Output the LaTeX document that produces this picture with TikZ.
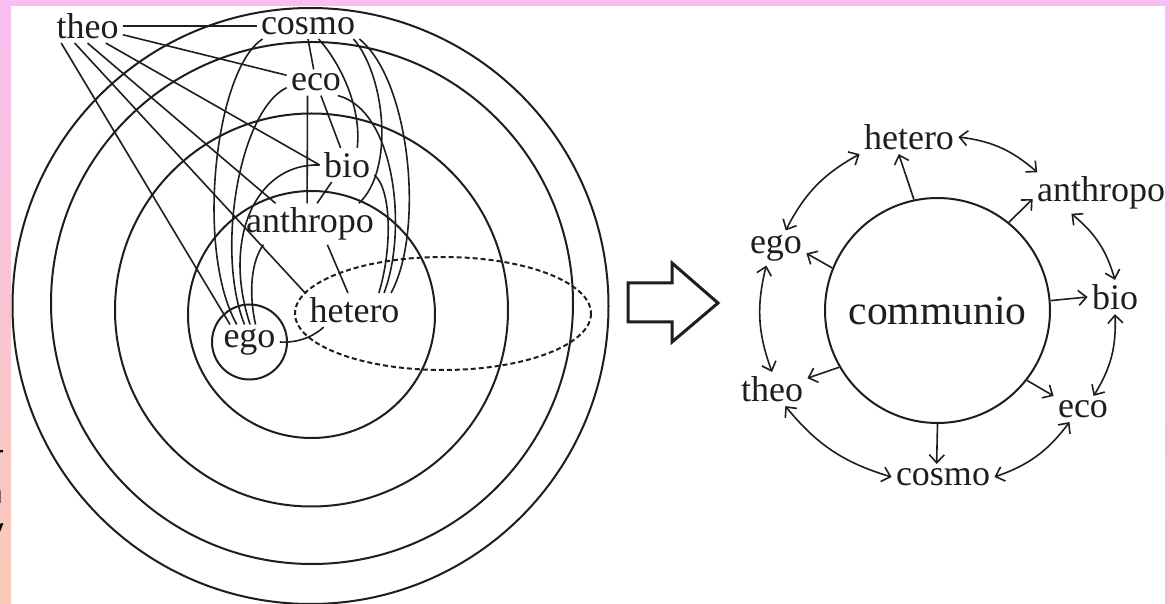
\documentclass[tikz,border=0pt]{standalone}
\usepackage{fontspec}
\setmainfont{Liberation Serif}
\newfontfamily\edgefont{Liberation Sans}
\usetikzlibrary{arrows.meta}

\definecolor{bandpink}{RGB}{249,190,240}
\definecolor{bandpeach}{RGB}{249,202,182}
\definecolor{bandrose}{RGB}{245,192,208}
\definecolor{ink}{RGB}{30,30,30}

\tikzstyle{term} = [inner sep=2pt, text=ink, font=\fontsize{18pt}{20pt}\selectfont]
\tikzstyle{ring} = [draw=ink, line width=1pt]
\tikzstyle{link} = [draw=ink, line width=0.8pt]
\tikzstyle{flow} = [draw=ink, line width=0.8pt, ->]
\tikzstyle{roundtrip} = [draw=ink, line width=0.8pt, <->, bend left=17]

\begin{document}
\begin{tikzpicture}[x=0.5pt, y=-0.5pt, >={Straight Barb[length=4pt,width=7.5pt]}]
\useasboundingbox (0,0) rectangle (1169,604);

% FRAME
\fill[white] (0,0) rectangle (1169,604);
\fill[bandpink] (0,0) rectangle (1169,6);
\shade[top color=bandpink, bottom color=bandpeach] (0,0) rectangle (11,604);
\shade[top color=bandpink, bottom color=bandrose] (1165,0) rectangle (1169,604);
\begin{scope}
\clip (0,0) rectangle (11,604);
\node[anchor=base east, inner sep=0pt, font=\edgefont\fontsize{15pt}{17pt}\selectfont] (cut1) at (4,467) {r};
\node[anchor=base east, inner sep=0pt, font=\edgefont\fontsize{15pt}{17pt}\selectfont] (cut2) at (3,503) {n};
\node[anchor=base east, inner sep=0pt, font=\edgefont\fontsize{15pt}{17pt}\selectfont] (cut3) at (4,539) {y};
\end{scope}

% LEFT: spheres
\draw[ring] (310.5,306) circle [radius=298];
\draw[ring] (312,303) circle [radius=261];
\draw[ring] (311.5,310) circle [radius=196.5];
\draw[ring] (311.5,314.5) circle [radius=123.5];
\draw[ring, dash pattern=on 2.5pt off 1.5pt] (443,313.5) ellipse [x radius=148, y radius=56.5];

\node[term] (theoL) at (87.5,26) {theo};
\node[term] (cosmoL) at (308,26) {cosmo};
\node[term] (ecoL) at (316,82.5) {eco};
\node[term] (bioL) at (347,165) {bio};
\node[term] (anthropoL) at (310,224) {anthropo};
\node[term] (heteroL) at (354.5,310) {hetero};
\node[term] (egoL) at (249.5,342) {ego};
\draw[ring] (egoL) circle [radius=37.5];

% theo
\draw[link] (theoL) -- (cosmoL);
\draw[link] (theoL) -- (ecoL);
\draw[link] (theoL.-43) -- (bioL.west);
\draw[link] (theoL.south) -- (anthropoL.149);
\draw[link] (theoL.233) -- (heteroL.north west);
\draw[link] (theoL.213) -- (egoL.138);

% cosmo
\draw[link] (cosmoL.south) -- (ecoL.100);
\draw[link] (cosmoL.-51) .. controls (338,60) and (362,105) .. (bioL.59);
\draw[link] (cosmoL.-16) .. controls (385,75) and (395,170) .. (anthropoL.23);
\draw[link] (cosmoL.south east) .. controls (410,80) and (425,230) .. (heteroL.25);
\draw[link] (cosmoL.196) .. controls (215,70) and (195,250) .. (egoL.126);

% eco
\draw[link] (ecoL) -- (bioL);
\draw[link] (ecoL.237) -- (anthropoL.98);
\draw[link] (ecoL.-31) .. controls (395,110) and (408,230) .. (heteroL.30);
\draw[link] (ecoL.190) .. controls (240,110) and (215,250) .. (egoL.106);

% bio
\draw[link] (bioL.228) -- (anthropoL.71);
\draw[link] (bioL.-20) .. controls (392,190) and (392,250) .. (heteroL.35);
\draw[link] (bioL.west) .. controls (255,163) and (222,240) .. (egoL.88);

% anthropo, hetero
\draw[link] (anthropoL.-50) -- (heteroL.111);
\draw[link] (anthropoL.204) .. controls (252,260) and (248,290) .. (egoL.71);
\draw[link] (heteroL.209) .. controls (312,338) and (296,343) .. (egoL.east);

% ARROW
\draw[draw=ink, line width=1.5pt, line join=miter] (628,283) -- (672,283) -- (672,263) -- (718,303) -- (672,342) -- (672,322) -- (628,322) -- cycle;

% RIGHT: communio
\node[term, circle, draw=ink, line width=1pt, minimum size=112.5pt, inner sep=0pt, font=\fontsize{20.8pt}{23pt}\selectfont] (communio) at (937.5,310.5) {communio};

\node[term] (heteroR) at (909,137) {hetero};
\node[term] (anthropoR) at (1101,193) {anthropo};
\node[term] (egoR) at (776,248) {ego};
\node[term] (bioR) at (1115,297) {bio};
\node[term] (theoR) at (772,389) {theo};
\node[term] (ecoR) at (1083,409) {eco};
\node[term] (cosmoR) at (943,477) {cosmo};

\draw[flow] (communio.102) -- (heteroR.239);
\draw[flow] (communio.51) -- (anthropoR.185);
\draw[flow] (communio.158) -- (egoR.-10);
\draw[flow] (communio.5) -- (bioR.west);
\draw[flow] (communio.210) -- (theoR.17);
\draw[flow] (communio.-38) -- (ecoR.north west);
\draw[flow] (communio.south) -- (cosmoR.116);

\draw[roundtrip] (heteroR.east) to (anthropoR.162);
\draw[roundtrip] (anthropoR.215) to (bioR.north);
\draw[roundtrip] (bioR.south) to (ecoR.51);
\draw[roundtrip] (ecoR.224) to (cosmoR.east);
\draw[roundtrip] (cosmoR.west) to (theoR.-52);
\draw[roundtrip] (theoR.north) to (egoR.241);
\draw[roundtrip] (egoR.61) to (heteroR.south west);
\end{tikzpicture}
\end{document}
